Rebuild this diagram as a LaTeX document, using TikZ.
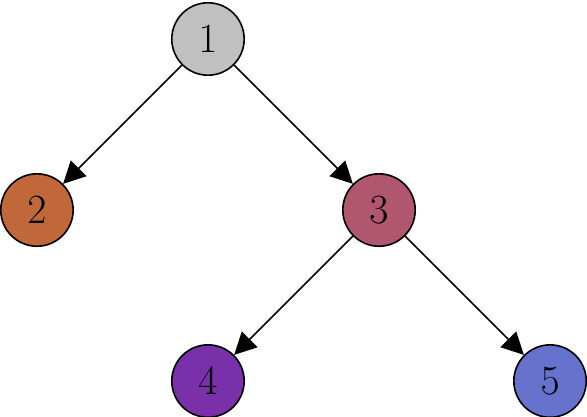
\documentclass[tikz,border=0pt]{standalone}
\usetikzlibrary{arrows.meta}
\definecolor{grayone}{RGB}{192,192,192}
\definecolor{rusttwo}{RGB}{192,104,58}
\definecolor{rosethree}{RGB}{176,86,111}
\definecolor{purplefour}{RGB}{122,48,168}
\definecolor{bluefive}{RGB}{102,114,204}
\tikzset{vertex/.style={circle, draw, line width=0.8pt, minimum size=1.27cm, inner sep=0pt,
  font=\fontsize{19.5}{23}\selectfont}}
\begin{document}
\begin{tikzpicture}[>={Triangle[length=11pt,width=11pt]}, x=3cm, y=3cm]
\useasboundingbox (-0.216,-1.205) rectangle (3.216,1.228);
\foreach \n/\x/\y/\c in {1/1/1/grayone, 2/0/0/rusttwo, 3/2/0/rosethree, 4/1/-1/purplefour, 5/3/-1/bluefive} {
\node[vertex, fill=\c] (n\n) at (\x,\y) {$\n$};}
\foreach \a/\b in {1/2, 1/3, 3/4, 3/5} {
\draw[->, line width=0.8pt] (n\a) -- (n\b);}
\end{tikzpicture}
\end{document}
